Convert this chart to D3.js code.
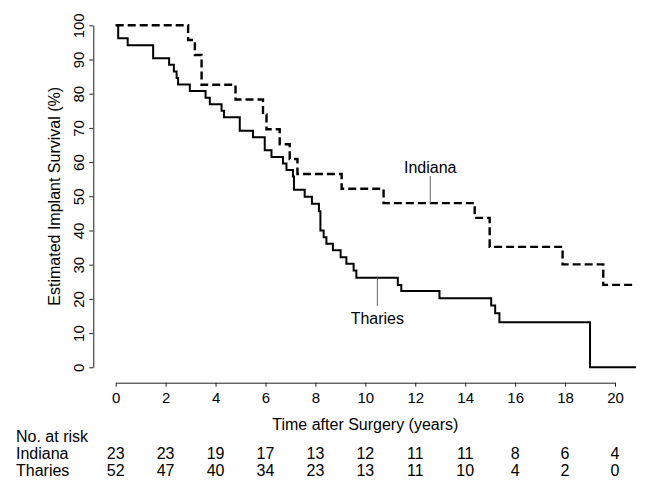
<!DOCTYPE html>
<html>
<head>
<meta charset="utf-8">
<script src="https://cdn.jsdelivr.net/npm/d3@7"></script>
<style>
  body { margin: 0; background: #fff; }
  text { font-family: "Liberation Sans", Arial, sans-serif; fill: #000; }
</style>
</head>
<body>
<div id="container"></div>
<script>
/* DATA */
// Kaplan-Meier steps: time (years) and survival (%) after each step
const indianaTimes = [0, 2.90, 3.17, 3.44, 4.80, 5.90, 6.04, 6.57, 6.97, 7.28, 9.05, 10.73, 14.38, 14.98, 17.90, 19.53, 20.84];
const indianaSurv  = [100, 95.7, 91.3, 82.6, 78.3, 73.9, 69.6, 65.2, 60.9, 56.5, 52.2, 48.0, 43.7, 35.2, 30.1, 24.1, 24.1];

const thariesTimes = [0, 0.10, 0.48, 1.50, 2.14, 2.33, 2.44, 2.50, 2.97, 3.60, 3.77, 4.24, 4.34, 4.97, 5.50, 5.97, 6.24, 6.70, 6.84, 7.10, 7.14, 7.57, 7.86, 8.14, 8.20, 8.33, 8.44, 8.70, 9.01, 9.24, 9.53, 9.64, 11.30, 11.44, 12.97, 15.04, 15.20, 15.37, 19.00, 20.84];
const thariesSurv  = [100, 96.2, 94.2, 90.4, 88.5, 86.5, 84.6, 82.7, 80.8, 78.8, 76.9, 75.0, 73.1, 69.2, 67.3, 63.5, 61.5, 59.6, 57.7, 55.8, 51.9, 49.9, 47.8, 45.6, 40.0, 38.0, 36.1, 34.2, 32.2, 30.3, 28.3, 26.2, 24.1, 22.3, 20.2, 18.1, 15.8, 13.2, 0, 0];

const xTicks = [0, 2, 4, 6, 8, 10, 12, 14, 16, 18, 20];
const yTicks = [0, 10, 20, 30, 40, 50, 60, 70, 80, 90, 100];
const riskIndiana = [23, 23, 19, 17, 13, 12, 11, 11, 8, 6, 4];
const riskTharies = [52, 47, 40, 34, 23, 13, 11, 10, 4, 2, 0];

/* SIZE */
const width = 645;
const height = 486;

const svg = d3.select("#container")
  .append("svg")
  .attr("width", width)
  .attr("height", height);

/* SCALES */
const x = d3.scaleLinear().domain([0, 20]).range([115.7, 615]);
const y = d3.scaleLinear().domain([0, 100]).range([367.3, 25.3]);

/* AXES */
const xAxis = svg.append("g")
  .attr("transform", "translate(0,382.7)")
  .call(d3.axisBottom(x).tickValues(xTicks).tickSize(4).tickSizeOuter(0).tickPadding(5));

xAxis.selectAll("text")
  .attr("font-size", 15)
  .attr("font-family", "Liberation Sans, Arial, sans-serif")
  .attr("dy", 0)
  .attr("y", 20.5);

const yAxis = svg.append("g")
  .attr("transform", "translate(93.3,0)")
  .call(d3.axisLeft(y).tickValues(yTicks).tickSize(4).tickSizeOuter(0));

yAxis.selectAll("text")
  .attr("font-size", 15)
  .attr("font-family", "Liberation Sans, Arial, sans-serif")
  .attr("text-anchor", "middle")
  .attr("transform", "rotate(-90)")
  .attr("x", 0)
  .attr("dy", 0)
  .attr("y", -9.5);

svg.selectAll(".domain, .tick line")
  .attr("stroke", "#222")
  .attr("stroke-width", 1);

// axis titles
svg.append("text")
  .attr("x", x(10))
  .attr("y", 430)
  .attr("text-anchor", "middle")
  .attr("font-size", 16)
  .text("Time after Surgery (years)");

svg.append("text")
  .attr("transform", `translate(60,${(y(0) + y(100)) / 2}) rotate(-90)`)
  .attr("text-anchor", "middle")
  .attr("font-size", 16)
  .text("Estimated Implant Survival (%)");

/* CURVES */
const line = d3.line()
  .x(d => x(d[0]))
  .y(d => y(d[1]))
  .curve(d3.curveStepAfter);

svg.append("path")
  .datum(d3.zip(thariesTimes, thariesSurv))
  .attr("fill", "none")
  .attr("stroke", "#000")
  .attr("stroke-width", 2)
  .attr("d", line);

svg.append("path")
  .datum(d3.zip(indianaTimes, indianaSurv))
  .attr("fill", "none")
  .attr("stroke", "#000")
  .attr("stroke-width", 2.4)
  .attr("stroke-dasharray", "8,4")
  .attr("d", line);

/* LABELS */
svg.append("line")
  .attr("x1", x(12.6)).attr("x2", x(12.6))
  .attr("y1", 176).attr("y2", y(48.0))
  .attr("stroke", "#666").attr("stroke-width", 1);

svg.append("text")
  .attr("x", x(12.6))
  .attr("y", 172.5)
  .attr("text-anchor", "middle")
  .attr("font-size", 16)
  .text("Indiana");

svg.append("line")
  .attr("x1", x(10.48)).attr("x2", x(10.48))
  .attr("y1", y(26.2)).attr("y2", 306)
  .attr("stroke", "#666").attr("stroke-width", 1);

svg.append("text")
  .attr("x", x(10.48))
  .attr("y", 324)
  .attr("text-anchor", "middle")
  .attr("font-size", 16)
  .text("Tharies");

/* NUMBER AT RISK */
svg.append("text")
  .attr("x", 16).attr("y", 441.5)
  .attr("font-size", 16)
  .text("No. at risk");

const rows = [["Indiana", riskIndiana, 458.5], ["Tharies", riskTharies, 475.5]];

rows.forEach(([name, counts, yy]) => {
  svg.append("text")
    .attr("x", 16).attr("y", yy)
    .attr("font-size", 16)
    .text(name);

  svg.selectAll(".risk-" + name)
    .data(counts)
    .join("text")
    .attr("class", "risk-" + name)
    .attr("x", (d, i) => x(xTicks[i]))
    .attr("y", yy)
    .attr("text-anchor", "middle")
    .attr("font-size", 16)
    .text(d => d);
});
</script>
</body>
</html>
